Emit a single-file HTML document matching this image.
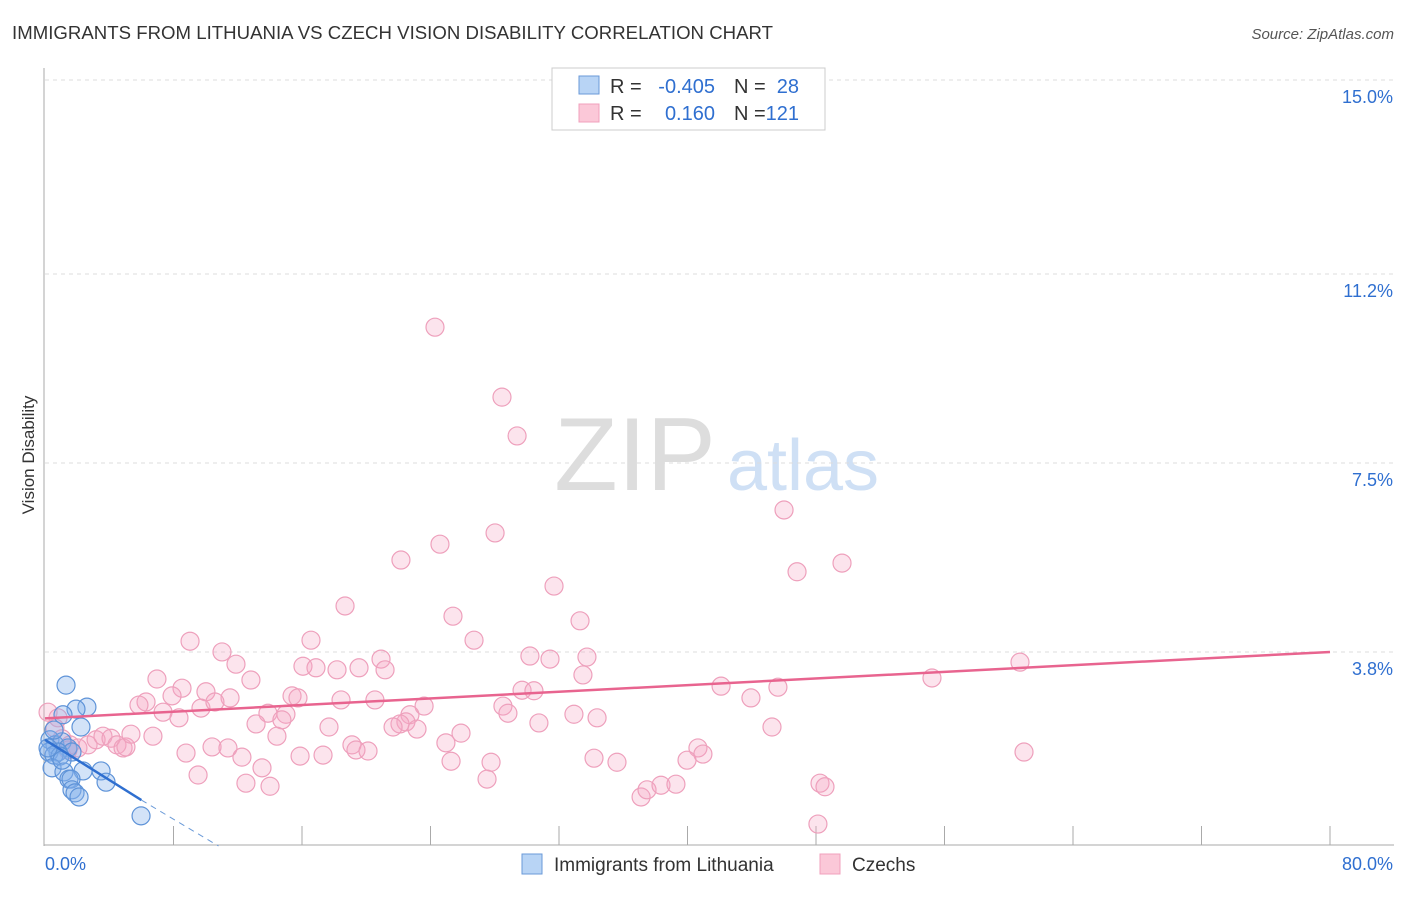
<!DOCTYPE html>
<html><head><meta charset="utf-8"><style>
body{margin:0;background:#fff;font-family:"Liberation Sans",sans-serif}
svg text{font-family:"Liberation Sans",sans-serif}
</style></head><body>
<svg id="c" width="1406" height="892">
<text x="12" y="39" font-size="18.6" fill="#333" textLength="761">IMMIGRANTS FROM LITHUANIA VS CZECH VISION DISABILITY CORRELATION CHART</text>
<text x="1394" y="39" font-size="15" fill="#555" font-style="italic" text-anchor="end">Source: ZipAtlas.com</text>
<text x="34" y="455" font-size="17" fill="#333" transform="rotate(-90 34 455)" text-anchor="middle">Vision Disability</text>
<g><text x="635" y="490" font-size="104" fill="#ddd" font-family="Liberation Serif" text-anchor="middle">ZIP</text><text x="803" y="490" font-size="72" fill="#cfe0f5" text-anchor="middle">atlas</text></g>
<g id="grid"></g><g id="pts"></g><g id="trend"></g>
<g>
<rect x="552" y="68" width="273" height="62" fill="#fff" stroke="#ccc"/>
<rect x="579" y="76" width="20" height="18" fill="#b8d4f5" stroke="#6a9ad8"/>
<rect x="579" y="104" width="20" height="18" fill="#fbc8d8" stroke="#f0a0bc"/>
<text x="610" y="93" font-size="20" fill="#333">R =</text>
<text x="715" y="93" font-size="20" fill="#2f6fd0" text-anchor="end">-0.405</text>
<text x="734" y="93" font-size="20" fill="#333">N =</text>
<text x="799" y="93" font-size="20" fill="#2f6fd0" text-anchor="end">28</text>
<text x="610" y="120" font-size="20" fill="#333">R =</text>
<text x="715" y="120" font-size="20" fill="#2f6fd0" text-anchor="end">0.160</text>
<text x="734" y="120" font-size="20" fill="#333">N =</text>
<text x="799" y="120" font-size="20" fill="#2f6fd0" text-anchor="end">121</text>
</g>
<g>
<rect x="522" y="854" width="20" height="20" fill="#b8d4f5" stroke="#6a9ad8"/>
<text x="554" y="871" font-size="19" fill="#333">Immigrants from Lithuania</text>
<rect x="820" y="854" width="20" height="20" fill="#fbc8d8" stroke="#f0a0bc"/>
<text x="852" y="871" font-size="19" fill="#333">Czechs</text>
</g>
</svg>
<script>
const yTicks=[15.0,11.2,7.5,3.8];
const yTickLabels=["15.0%","11.2%","7.5%","3.8%"];
const xTicks=[0,8,16,24,32,40,48,56,64,72,80];
const pinkPx=[[435,327],[502,397],[517,436],[784,510],[495,533],[440,544],[401,560],[842,563],[797,572],[554,586],[345,606],[453,616],[580,621],[190,641],[311,640],[474,640],[222,652],[236,664],[381,659],[530,656],[587,657],[550,659],[1020,662],[303,666],[316,668],[337,670],[359,668],[385,670],[583,675],[157,679],[251,680],[182,688],[172,696],[206,692],[230,698],[146,702],[139,705],[292,696],[298,698],[341,700],[375,700],[522,690],[534,691],[721,686],[778,687],[932,678],[751,698],[503,706],[508,713],[424,706],[201,708],[163,712],[179,718],[215,702],[268,713],[286,714],[410,715],[574,714],[597,718],[406,722],[400,724],[393,727],[282,720],[256,724],[329,727],[539,723],[772,727],[417,729],[48,712],[58,718],[55,728],[62,739],[70,745],[78,748],[68,750],[88,745],[96,740],[103,736],[111,738],[117,745],[123,748],[126,747],[131,734],[153,736],[277,736],[461,733],[446,743],[352,745],[356,750],[368,751],[212,747],[228,748],[186,753],[300,756],[323,755],[242,757],[451,761],[491,762],[594,758],[617,762],[698,748],[703,754],[687,760],[1024,752],[262,768],[198,775],[487,779],[246,783],[270,786],[641,797],[647,790],[661,785],[676,784],[820,783],[825,787],[818,824]];
const bluePx=[[66,685],[87,707],[76,709],[63,715],[81,727],[50,740],[55,745],[62,742],[68,748],[72,752],[58,752],[49,752],[54,755],[60,756],[52,768],[64,772],[83,771],[69,779],[71,779],[101,771],[106,782],[72,790],[75,793],[79,797],[141,816],[54,730],[48,748],[62,760]];
const pinkX=pinkPx.map(p=>+((p[0]-45)/1285*80).toFixed(2));
const pinkY=pinkPx.map(p=>+((846-p[1])/766*15).toFixed(2));
const blueX=bluePx.map(p=>+((p[0]-45)/1285*80).toFixed(2));
const blueY=bluePx.map(p=>+((846-p[1])/766*15).toFixed(2));
const pinkTrend=[[0,2.5],[80,3.8]];
const blueTrend=[[0,2.08],[6,0.9],[10.8,0]];
const X=v=>45+v/80*1285, Y=v=>846-v/15*766;
const NS="http://www.w3.org/2000/svg";
function mk(t,a,p){const e=document.createElementNS(NS,t);for(const k in a)e.setAttribute(k,a[k]);p.appendChild(e);return e;}
const g=document.getElementById('grid');
yTicks.forEach((t,i)=>{
 const l=mk('line',{x1:45,x2:1394,y1:Y(t),y2:Y(t),stroke:'#ddd','stroke-dasharray':'4,4'},g);
 
 
 const tx=mk('text',{x:1393,y:Y(t)+23,'font-size':18,fill:'#2f6fd0','text-anchor':'end'},g);tx.textContent=yTickLabels[i];
 
 
});
mk('line',{x1:44,x2:44,y1:68,y2:846,stroke:'#aaa'},g);
mk('line',{x1:44,x2:1394,y1:845,y2:845,stroke:'#aaa'},g);
xTicks.forEach(t=>{if(t>0){const l=mk('line',{x1:X(t),x2:X(t),y1:826,y2:845,stroke:'#aaa'},g);
 
 }});
const a=mk('text',{x:45,y:870,'font-size':18,fill:'#2f6fd0'},g);a.textContent='0.0%';


const b=mk('text',{x:1393,y:870,'font-size':18,fill:'#2f6fd0','text-anchor':'end'},g);b.textContent='80.0%';


const P=document.getElementById('pts');
pinkX.forEach((x,i)=>{const c=mk('circle',{cx:X(x),cy:Y(pinkY[i]),r:9,fill:'rgba(245,165,195,0.3)',stroke:'#eea0bc','stroke-width':1.2},P);
 
 });
blueX.forEach((x,i)=>{const c=mk('circle',{cx:X(x),cy:Y(blueY[i]),r:9,fill:'rgba(130,175,235,0.35)',stroke:'#5e93d8','stroke-width':1.2},P);
 
 });
const T=document.getElementById('trend');
const pt=mk('line',{x1:X(pinkTrend[0][0]),y1:Y(pinkTrend[0][1]),x2:X(pinkTrend[1][0]),y2:Y(pinkTrend[1][1]),stroke:'#e8648f','stroke-width':2.5},T);


const bt=mk('line',{x1:X(blueTrend[0][0]),y1:Y(blueTrend[0][1]),x2:X(blueTrend[1][0]),y2:Y(blueTrend[1][1]),stroke:'#2f6fd0','stroke-width':2.5},T);


const bd=mk('line',{x1:X(blueTrend[1][0]),y1:Y(blueTrend[1][1]),x2:X(blueTrend[2][0]),y2:Y(blueTrend[2][1]),stroke:'#6a9ad8','stroke-width':1,'stroke-dasharray':'6,5'},T);


</script>
</body></html>
